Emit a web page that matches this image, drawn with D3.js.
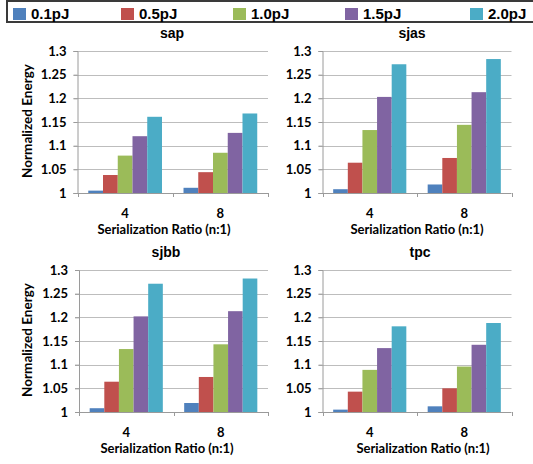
<!DOCTYPE html>
<html>
<head>
<meta charset="utf-8">
<script src="https://cdn.jsdelivr.net/npm/d3@7"></script>
<style>
body { margin:0; background:#fff; }
</style>
</head>
<body>
<svg id="chart" width="533" height="464"></svg>
<script>
var categories = ["4", "8"]
var series = ["0.1pJ", "0.5pJ", "1.0pJ", "1.5pJ", "2.0pJ"]
var colors = ["#4F81BD", "#C0504D", "#9BBB59", "#8064A2", "#4BACC6"]
var yTicks = [1, 1.05, 1.1, 1.15, 1.2, 1.25, 1.3]
var tickLabels = ["1", "1.05", "1.1", "1.15", "1.2", "1.25", "1.3"]

// values per category: [4, 8], each with one value per series
var sap  = [[1.005, 1.038, 1.079, 1.120, 1.161], [1.011, 1.044, 1.085, 1.127, 1.168]]
var sjas = [[1.008, 1.064, 1.133, 1.203, 1.272], [1.018, 1.074, 1.144, 1.213, 1.283]]
var sjbb = [[1.008, 1.064, 1.133, 1.202, 1.271], [1.019, 1.074, 1.143, 1.213, 1.282]]
var tpc  = [[1.005, 1.043, 1.089, 1.135, 1.181], [1.012, 1.050, 1.096, 1.142, 1.188]]

var panels = [
  {name: "sap",  vals: sap,  x0: 77.5, x1: 268,  y0: 51,  y1: 193, tx: 172, ytitle: true, axx: 164},
  {name: "sjas", vals: sjas, x0: 322.5, x1: 511.5, y0: 51,  y1: 193, tx: 412, ytitle: false, axx: 417},
  {name: "sjbb", vals: sjbb, x0: 79,   x1: 268,  y0: 270, y1: 412, tx: 166, ytitle: true, axx: 167},
  {name: "tpc",  vals: tpc,  x0: 322.5, x1: 511.5, y0: 270, y1: 412, tx: 420, ytitle: false, axx: 423}
]

var svg = d3.select("#chart")
var labelFont = "Lato, 'Open Sans', sans-serif"
var titleFont = "'Liberation Sans', Arial, sans-serif"

// legend
var legX = [13, 121, 233, 345, 470]
svg.append("path").attr("d", "M533,1 H7 V22 H533").attr("fill", "none").attr("stroke", "#3a3a3a").attr("stroke-width", 2)
var leg = svg.selectAll("g.leg").data(series).enter().append("g").attr("class", "leg")
leg.append("rect").attr("x", function(d, i) { return legX[i] }).attr("y", 8).attr("width", 13).attr("height", 12)
  .attr("fill", function(d, i) { return colors[i] })
leg.append("text").attr("x", function(d, i) { return legX[i] + 18 }).attr("y", 19)
  .attr("font-family", titleFont).attr("font-weight", "bold").attr("font-size", "15px").attr("fill", "#000")
  .text(function(d) { return d })

panels.forEach(function(p) {
  var g = svg.append("g")
  var y = d3.scaleLinear().domain([1, 1.3]).range([p.y1, p.y0])
  var x = d3.scaleBand().domain(categories).range([p.x0, p.x1]).paddingInner(0).paddingOuter(0)
  var xs = d3.scaleBand().domain(series).range([0, x.bandwidth()]).paddingInner(0).paddingOuter(0.73)

  // gridlines
  g.selectAll("line.grid").data(yTicks.slice(1)).enter().append("line")
    .attr("x1", p.x0 - 4).attr("x2", p.x1).attr("y1", function(d) { return Math.round(y(d)) + 0.5 }).attr("y2", function(d) { return Math.round(y(d)) + 0.5 })
    .attr("stroke", "#bdbdbd").attr("stroke-width", 1)

  // y axis
  var yAxis = d3.axisLeft(y).tickValues(yTicks).tickSize(4).tickFormat(function(d, i) { return tickLabels[i] })
  var ya = g.append("g").attr("transform", "translate(" + p.x0 + ",0)").call(yAxis)
  ya.select(".domain").attr("stroke", "#9a9a9a")
  ya.selectAll(".tick line").attr("stroke", "#9a9a9a")
  ya.selectAll(".tick text").attr("x", -11).attr("font-family", labelFont).attr("font-weight", "bold").attr("font-size", "13px").attr("fill", "#000")

  // bars
  var cat = g.selectAll("g.cat").data(p.vals).enter().append("g")
    .attr("transform", function(d, i) { return "translate(" + x(categories[i]) + ",0)" })
  cat.selectAll("rect").data(function(d) { return d }).enter().append("rect")
    .attr("x", function(d, i) { return xs(series[i]) })
    .attr("width", xs.bandwidth())
    .attr("y", function(d) { return y(d) })
    .attr("height", function(d) { return y(1) - y(d) })
    .attr("fill", function(d, i) { return colors[i] })

  // x axis
  var xAxis = d3.axisBottom(x).tickSize(0).tickPadding(0)
  var xa = g.append("g").attr("transform", "translate(0," + p.y1 + ")").call(xAxis)
  xa.select(".domain").remove()
  xa.append("line").attr("x1", p.x0 - 4).attr("x2", p.x1).attr("y1", 0.5).attr("y2", 0.5).attr("stroke", "#9a9a9a")
  xa.selectAll("line.sep").data([p.x0, x(categories[1]), p.x1]).enter().append("line").attr("class", "sep")
    .attr("x1", function(d) { return Math.round(d) + 0.5 }).attr("x2", function(d) { return Math.round(d) + 0.5 })
    .attr("y1", 0).attr("y2", 4).attr("stroke", "#9a9a9a")
  xa.selectAll(".tick text").attr("y", 25).attr("dy", 0).attr("font-family", labelFont).attr("font-weight", "bold").attr("font-size", "13px").attr("fill", "#000")

  g.append("text").attr("x", p.axx).attr("y", p.y1 + 41).attr("text-anchor", "middle")
    .attr("font-family", labelFont).attr("font-weight", "bold").attr("font-size", "13px")
    .text("Serialization Ratio (n:1)")

  g.append("text").attr("x", p.tx).attr("y", p.y0 - 13).attr("text-anchor", "middle")
    .attr("font-family", titleFont).attr("font-weight", "bold").attr("font-size", "14px")
    .text(p.name)

  if (p.ytitle) {
    g.append("text").attr("transform", "translate(32," + ((p.y0 + p.y1) / 2 - 1) + ") rotate(-90)").attr("text-anchor", "middle")
      .attr("font-family", labelFont).attr("font-weight", "bold").attr("font-size", "13.5px")
      .text("Normalized Energy")
  }
})
</script>
</body>
</html>
